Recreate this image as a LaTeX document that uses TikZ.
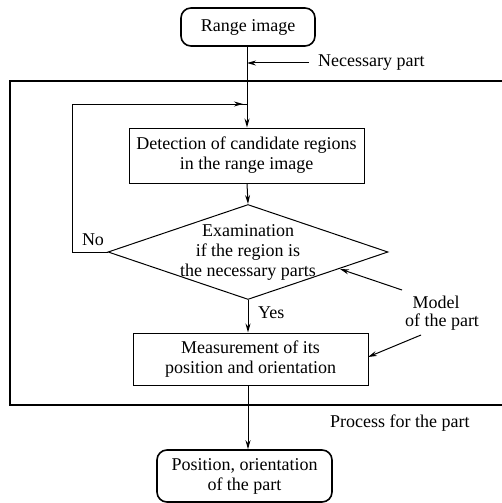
\documentclass[tikz,border=0pt]{standalone}
\usepackage{fontspec}
\setmainfont{Liberation Serif}
\usetikzlibrary{shapes.geometric,arrows.meta}
\begin{document}
\begin{tikzpicture}[x=1pt,y=-1pt,
  txt/.style={font=\fontsize{18}{20}\selectfont, inner sep=0pt, align=center},
  term/.style={draw, line width=1.6pt, rounded corners=10pt, inner sep=0pt},
  procbox/.style={draw, line width=1pt, inner sep=0pt},
  conn/.style={line width=1pt},
  arr/.style={conn, -{Stealth[length=9pt,width=5pt]}},
  frame/.style={line width=2pt}]
\useasboundingbox (0,0) rectangle (502,503);
% outer frame
\draw[frame] (515,81) -- (10,81) -- (10,405) -- (515,405);
% nodes
\node[term, minimum width=134pt, minimum height=38pt] (range) at (248,27) {};
\node[txt] at (range) {Range image};
\node[procbox, minimum width=235pt, minimum height=55pt] (detect) at (246.5,155.5) {};
\node[txt] at (detect) {Detection of candidate regions\\in the range image};
\node[draw, diamond, line width=1pt, minimum width=280pt, minimum height=95pt, inner sep=0pt] (dia) at (248,252) {};
\node[txt] at (dia) {Examination\\if the region is\\the necessary parts};
\node[procbox, minimum width=235pt, minimum height=52pt] (meas) at (250.5,359) {};
\node[txt] at (meas) {Measurement of its\\position and orientation};
\node[term, minimum width=175pt, minimum height=52pt] (final) at (244.5,476) {};
\node[txt] at (final) {Position, orientation\\of the part};
% labels
\node[txt, anchor=west] (necl) at (318,63) {Necessary part};
\node[txt] (no) at (93,240) {No};
\node[txt, anchor=west] (yes) at (258,313) {Yes};
\node[txt] (model1) at (436,302) {Model};
\node[txt] (model2) at (442,322) {of the part};
\node[txt, anchor=west] (proc) at (330,423) {Process for the part};
% coordinates
\coordinate (join) at (247,104);
\coordinate (necs) at (309,63);
\coordinate (nect) at (247,63);
\coordinate (m1s) at (402,290);
\coordinate (m1t) at (340,269);
\coordinate (m2s) at (421,335);
\coordinate (m2t) at (368,357);
% connectors
\draw[conn] (range.south -| join) -- (join);
\draw[arr] (necs) -- (nect);
\draw[arr] (join) -- (join |- detect.north);
\draw[arr] (detect.south -| join) -- (dia.north);
\draw[conn] (dia.west) -- (72,252) -- (72,104) -- (join);
\draw[arr] (72,104) -- (243,104);
\draw[arr] (dia.south) -- (dia.south |- meas.north);
\draw[arr] (m1s) -- (m1t);
\draw[arr] (m2s) -- (m2t);
\draw[arr] (meas.south -| dia.south) -- (final.north -| dia.south);
\end{tikzpicture}
\end{document}
